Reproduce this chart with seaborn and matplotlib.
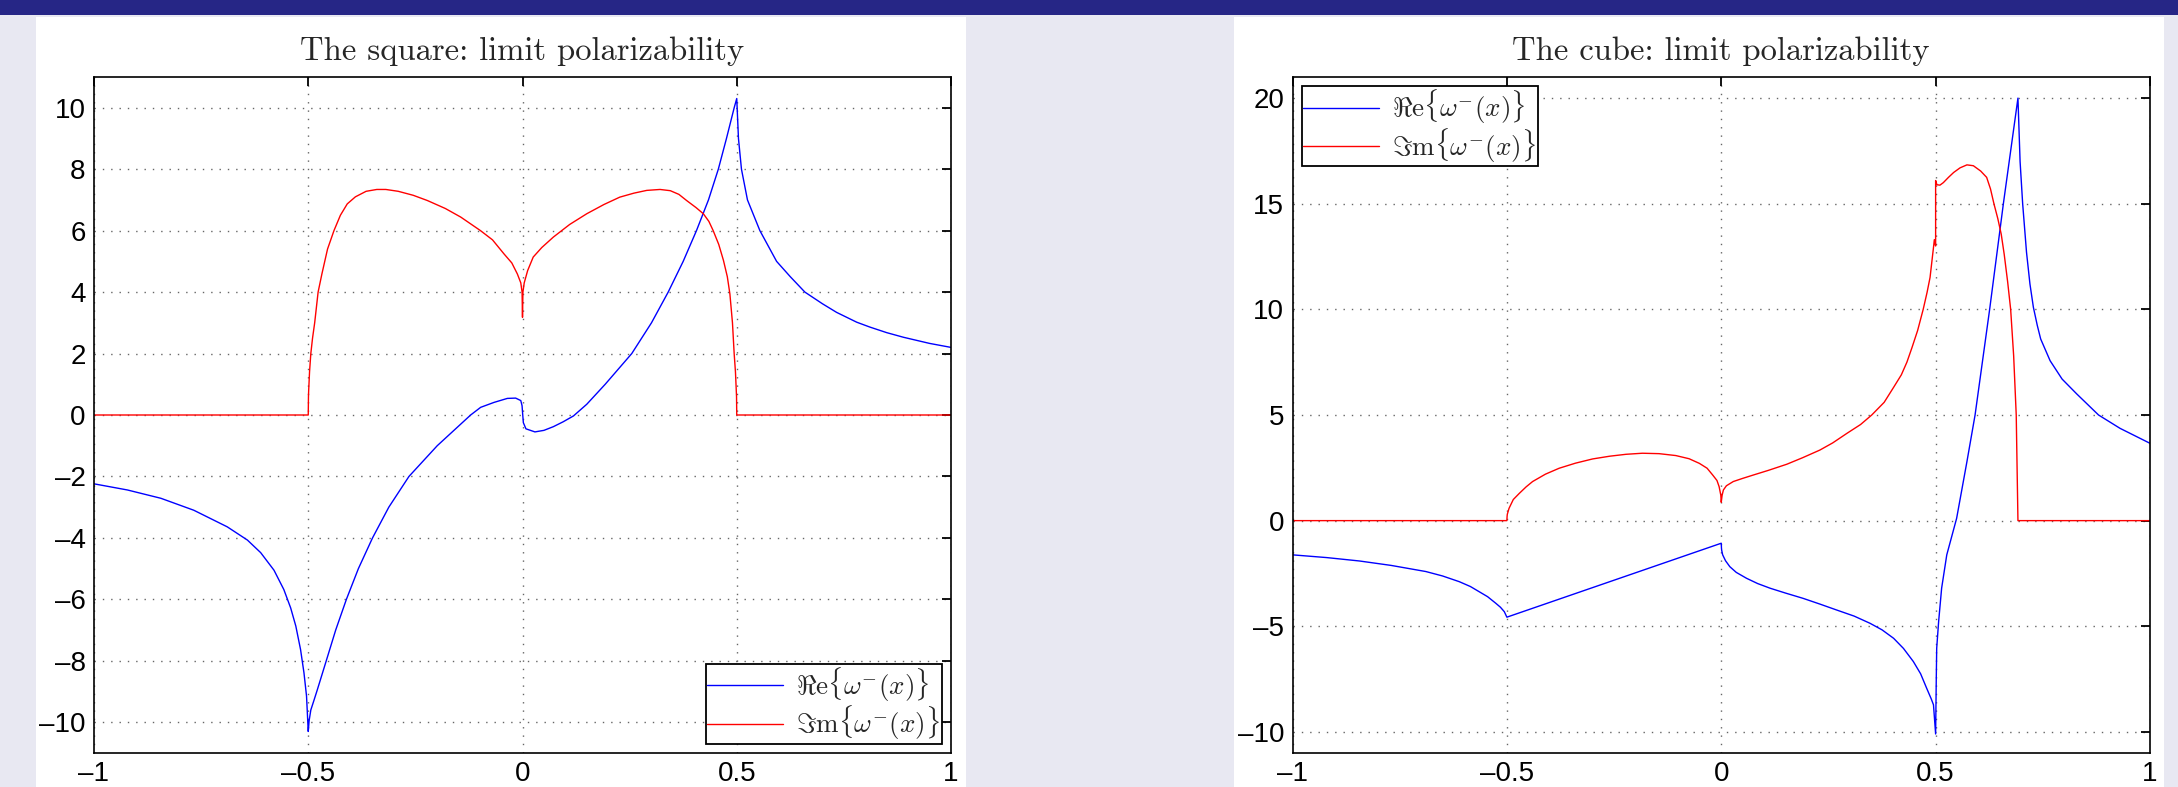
import matplotlib
matplotlib.use("Agg")
import matplotlib.pyplot as plt
from matplotlib.patches import Rectangle
import seaborn as sns

# Values
# square: real part
sq_re_x = [-1.0, -0.922, -0.844, -0.767, -0.689, -0.642, -0.611, -0.58, -0.557, -0.541,
           -0.529, -0.518, -0.51, -0.504, -0.5, -0.498, -0.494, -0.487, -0.479, -0.458,
           -0.436, -0.411, -0.383, -0.35, -0.312, -0.265, -0.199, -0.121, -0.0976, -0.0665,
           -0.0354, -0.016, -0.004, -0.001, 0.0, 0.002, 0.008, 0.029, 0.05, 0.072,
           0.095, 0.119, 0.15, 0.193, 0.255, 0.301, 0.34, 0.375, 0.406, 0.434,
           0.457, 0.476, 0.494, 0.5, 0.504, 0.511, 0.525, 0.554, 0.593, 0.625,
           0.659, 0.7, 0.733, 0.78, 0.811, 0.85, 0.889, 0.95, 1.0]
sq_re_y = [-2.24, -2.44, -2.71, -3.10, -3.64, -4.07, -4.48, -5.05, -5.68, -6.28,
           -6.87, -7.63, -8.39, -9.15, -10.3, -9.95, -9.6, -9.3, -8.95, -8.0,
           -7.0, -6.0, -5.0, -4.0, -3.0, -2.0, -1.0, 0.0, 0.25, 0.41,
           0.54, 0.55, 0.47, 0.3, 0.1, -0.25, -0.45, -0.55, -0.5, -0.38,
           -0.22, -0.03, 0.35, 1.0, 2.0, 3.0, 4.0, 5.0, 6.0, 7.0,
           8.0, 9.0, 10.0, 10.3, 9.0, 8.0, 7.0, 6.0, 5.0, 4.5,
           4.0, 3.62, 3.34, 3.02, 2.86, 2.68, 2.53, 2.33, 2.2]

# square: imaginary part
sq_im_x = [-1.0, -0.5, -0.4995, -0.499, -0.497, -0.494, -0.49, -0.485, -0.477, -0.468,
           -0.455, -0.44, -0.425, -0.409, -0.39, -0.365, -0.34, -0.319, -0.29, -0.255,
           -0.222, -0.18, -0.144, -0.098, -0.07, -0.043, -0.025, -0.012, -0.004, -0.001,
           0.0, 0.001, 0.004, 0.012, 0.025, 0.045, 0.072, 0.11, 0.15, 0.19,
           0.227, 0.26, 0.29, 0.321, 0.345, 0.365, 0.383, 0.405, 0.422, 0.435,
           0.445, 0.458, 0.469, 0.478, 0.484, 0.49, 0.494, 0.497, 0.4995, 0.5,
           1.0]
sq_im_y = [0.0, 0.0, 0.6, 0.8, 1.4, 2.0, 2.5, 3.0, 4.0, 4.6,
           5.4, 6.0, 6.5, 6.87, 7.1, 7.28, 7.34, 7.34, 7.28, 7.15,
           6.98, 6.72, 6.44, 6.0, 5.7, 5.24, 4.95, 4.59, 4.3, 4.0,
           3.18, 4.0, 4.3, 4.7, 5.14, 5.45, 5.79, 6.2, 6.55, 6.85,
           7.09, 7.22, 7.31, 7.34, 7.3, 7.18, 6.98, 6.75, 6.55, 6.3,
           6.0, 5.55, 5.03, 4.5, 3.94, 3.0, 1.99, 1.4, 0.6, 0.0,
           0.0]

# cube: real part
cube_re_x = [-1.0, -0.92, -0.844, -0.77, -0.689, -0.65, -0.611, -0.585, -0.565, -0.545,
             -0.526, -0.515, -0.506, -0.5, 0.0, 0.0005, 0.001, 0.0033, 0.01, 0.02,
             0.035, 0.059, 0.085, 0.114, 0.15, 0.191, 0.23, 0.269, 0.31, 0.347,
             0.375, 0.402, 0.425, 0.448, 0.465, 0.479, 0.49, 0.495, 0.5, 0.5015,
             0.5025, 0.507, 0.514, 0.526, 0.549, 0.573, 0.592, 0.626, 0.658, 0.692,
             0.697, 0.703, 0.712, 0.72, 0.728, 0.737, 0.745, 0.767, 0.795, 0.829,
             0.88, 0.93, 1.0]
cube_re_y = [-1.62, -1.75, -1.91, -2.12, -2.41, -2.62, -2.89, -3.12, -3.36, -3.6,
             -3.91, -4.1, -4.31, -4.57, -1.07, -1.3, -1.4, -1.62, -1.9, -2.18,
             -2.45, -2.73, -2.98, -3.2, -3.43, -3.68, -3.95, -4.23, -4.52, -4.86,
             -5.17, -5.57, -6.05, -6.67, -7.25, -7.93, -8.45, -8.72, -10.1, -7.5,
             -6.04, -4.78, -3.2, -1.62, 0.11, 2.79, 5.0, 10.0, 15.0, 20.0,
             17.0, 15.0, 12.7, 11.2, 10.1, 9.25, 8.6, 7.57, 6.7, 6.0,
             5.0, 4.37, 3.66]

# cube: imaginary part
cube_im_x = [-1.0, -0.5, -0.4995, -0.499, -0.495, -0.485, -0.471, -0.455, -0.44, -0.41,
             -0.378, -0.34, -0.3, -0.26, -0.222, -0.184, -0.145, -0.106, -0.075, -0.051,
             -0.033, -0.02, -0.01, -0.005, -0.001, 0.0, 0.002, 0.005, 0.012, 0.028,
             0.05, 0.075, 0.11, 0.153, 0.19, 0.23, 0.26, 0.293, 0.325, 0.351,
             0.38, 0.402, 0.42, 0.433, 0.445, 0.458, 0.471, 0.48, 0.487, 0.495,
             0.497, 0.5, 0.5, 0.503, 0.51, 0.518, 0.53, 0.542, 0.557, 0.573,
             0.588, 0.605, 0.619, 0.628, 0.636, 0.645, 0.653, 0.66, 0.668, 0.675,
             0.682, 0.688, 0.692, 1.0]
cube_im_y = [0.0, 0.0, 0.2, 0.3, 0.58, 1.0, 1.29, 1.6, 1.85, 2.2,
             2.48, 2.72, 2.92, 3.05, 3.14, 3.19, 3.17, 3.08, 2.93, 2.71,
             2.48, 2.16, 1.9, 1.61, 1.2, 0.87, 1.2, 1.45, 1.65, 1.85,
             2.0, 2.16, 2.38, 2.67, 2.98, 3.34, 3.68, 4.13, 4.55, 5.0,
             5.6, 6.31, 6.9, 7.5, 8.2, 9.0, 10.0, 10.8, 11.51, 12.93,
             13.3, 13.0, 16.1, 15.9, 15.88, 16.0, 16.25, 16.48, 16.7, 16.84,
             16.8, 16.55, 16.25, 15.7, 15.0, 14.3, 13.56, 12.6, 11.3, 10.0,
             7.8, 5.0, 0.0, 0.0]

x_ticks = [-1, -0.5, 0, 0.5, 1]
x_tick_labels = ["\u20131", "\u20130.5", "0", "0.5", "1"]
sq_y_ticks = [-10, -8, -6, -4, -2, 0, 2, 4, 6, 8, 10]
cube_y_ticks = [-10, -5, 0, 5, 10, 15, 20]

titles = ["The square: limit polarizability", "The cube: limit polarizability"]
re_label = r"$\Re\mathrm{e}\{\omega^{-}(x)\}$"
im_label = r"$\Im\mathrm{m}\{\omega^{-}(x)\}$"

sns.set_style("white")
plt.rcParams['font.family'] = ['Liberation Sans', 'DejaVu Sans']
plt.rcParams['mathtext.fontset'] = 'cm'

W, H = 2178, 787
bg = "#e8e8f2"
band = "#262686"
fig = plt.figure(figsize=(W / 100, H / 100), dpi=100, facecolor=bg)

# slide decoration: top band and white panels (kept under the axes)
fig.patches.append(Rectangle((0, 1 - 15 / H), 1, 15 / H, transform=fig.transFigure,
                             facecolor=band, edgecolor='none', zorder=-10))
for x0, x1 in [(36, 966), (1234, 2164)]:
    fig.patches.append(Rectangle((x0 / W, 0), (x1 - x0) / W, (H - 17) / H,
                                 transform=fig.transFigure, facecolor='white',
                                 edgecolor='none', zorder=-10))

ax_sq = fig.add_axes([94 / W, 1 - 753 / H, (951 - 94) / W, (753 - 77) / H])
ax_cu = fig.add_axes([1292.5 / W, 1 - 753 / H, (2150 - 1292.5) / W, (753 - 77) / H])

panels = [
    (ax_sq, sq_re_x, sq_re_y, sq_im_x, sq_im_y, (-11, 11), sq_y_ticks, 'lower right', titles[0]),
    (ax_cu, cube_re_x, cube_re_y, cube_im_x, cube_im_y, (-11, 21), cube_y_ticks, 'upper left', titles[1]),
]

for ax, rx, ry, ix, iy, ylim, yticks, loc, title in panels:
    ax.set_facecolor('white')
    sns.lineplot(x=rx, y=ry, ax=ax, color='#0000ff', linewidth=1.0, label=re_label,
                 estimator=None, sort=False)
    sns.lineplot(x=ix, y=iy, ax=ax, color='#ff0000', linewidth=1.0, label=im_label,
                 estimator=None, sort=False)
    ax.set_xlim(-1, 1)
    ax.set_ylim(*ylim)
    ax.set_xticks(x_ticks)
    ax.set_xticklabels(x_tick_labels)
    ax.set_yticks(yticks)
    ax.set_yticklabels([str(v).replace('-', '\u2013') for v in yticks])
    ax.tick_params(direction='in', length=6.5, width=1.3, top=True, right=True,
                   labelsize=20, pad=6, colors='black')
    ax.grid(True, linestyle=(0, (1, 5)), color='0.4', linewidth=1.0)
    ax.set_axisbelow(True)
    for sp in ax.spines.values():
        sp.set_visible(True)
        sp.set_color('black')
        sp.set_linewidth(1.2)
    ax.set_xlabel("")
    ax.set_ylabel("")
    ax.set_title(title, fontfamily='cmr10', fontsize=23.5, pad=12)
    leg = ax.legend(loc=loc, fontsize=19.5, frameon=True, fancybox=False, framealpha=1,
                    edgecolor='black', borderaxespad=0.34, handlelength=2.8,
                    handletextpad=0.5, labelspacing=0.0, borderpad=0.05)
    leg.get_frame().set_linewidth(1.3)

fig.savefig("out.png", dpi=100, facecolor=bg)
